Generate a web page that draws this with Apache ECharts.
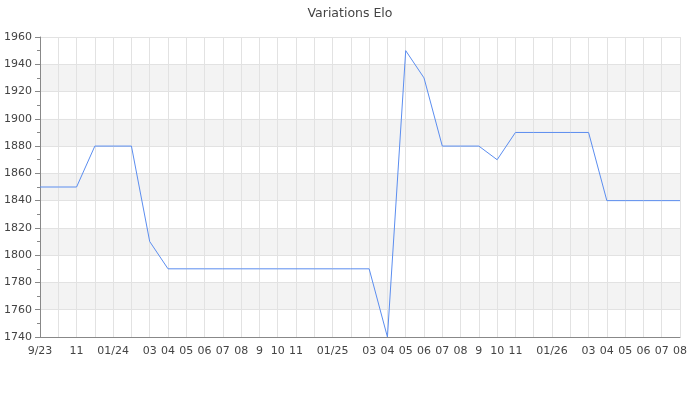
<!DOCTYPE html>
<html>
<head>
<meta charset="utf-8">
<script src="https://cdn.jsdelivr.net/npm/echarts@6/dist/echarts.min.js"></script>
<style>html,body{margin:0;padding:0;background:#fff}#c{width:700px;height:400px}</style>
</head>
<body>
<div id="c"></div>
<script>
const months = ['2023-09','2023-10','2023-11','2023-12','2024-01','2024-02','2024-03','2024-04','2024-05','2024-06','2024-07','2024-08','2024-09','2024-10','2024-11','2024-12','2025-01','2025-02','2025-03','2025-04','2025-05','2025-06','2025-07','2025-08','2025-09','2025-10','2025-11','2025-12','2026-01','2026-02','2026-03','2026-04','2026-05','2026-06','2026-07','2026-08'];
const tickLabels = ['9/23','','11','','01/24','','03','04','05','06','07','08','9','10','11','','01/25','','03','04','05','06','07','08','9','10','11','','01/26','','03','04','05','06','07','08'];
const elo = [1850,1850,1850,1880,1880,1880,1810,1790,1790,1790,1790,1790,1790,1790,1790,1790,1790,1790,1790,1740,1950,1930,1880,1880,1880,1870,1890,1890,1890,1890,1890,1840,1840,1840,1840,1840];
const titleText = 'Variations Elo';

const chart = echarts.init(document.getElementById('c'), null, {renderer: 'canvas'});
chart.setOption({
  animation: false,
  backgroundColor: '#fff',
  textStyle: {fontFamily: 'DejaVu Sans'},
  title: {
    text: titleText, left: 'center', top: 2,
    textStyle: {fontSize: 12.5, fontWeight: 'normal', color: '#444', fontFamily: 'DejaVu Sans'}
  },
  grid: {left: 40, right: 20, top: 37, bottom: 63, containLabel: false},
  xAxis: {
    type: 'category', data: months, boundaryGap: false,
    axisLine: {lineStyle: {color: '#888'}},
    axisTick: {show: false},
    axisLabel: {
      interval: 0, color: '#444', fontSize: 11, margin: 9,
      formatter: (v, i) => tickLabels[i]
    },
    splitLine: {show: true, lineStyle: {color: '#e2e2e2'}}
  },
  yAxis: {
    type: 'value', min: 1740, max: 1960, interval: 20,
    axisLine: {show: true, lineStyle: {color: '#888'}},
    axisTick: {show: true, length: 5, lineStyle: {color: '#888'}},
    minorTick: {show: true, splitNumber: 2, length: 3, lineStyle: {color: '#888'}},
    axisLabel: {color: '#444', fontSize: 11, margin: 8, formatter: v => String(v)},
    splitLine: {show: true, lineStyle: {color: '#e2e2e2'}},
    splitArea: {show: true, areaStyle: {color: ['#ffffff', '#f3f3f3']}}
  },
  series: [{
    type: 'line', data: elo, showSymbol: false, symbol: 'none',
    lineStyle: {color: '#5b8def', width: 1}
  }]
});
</script>
</body>
</html>
